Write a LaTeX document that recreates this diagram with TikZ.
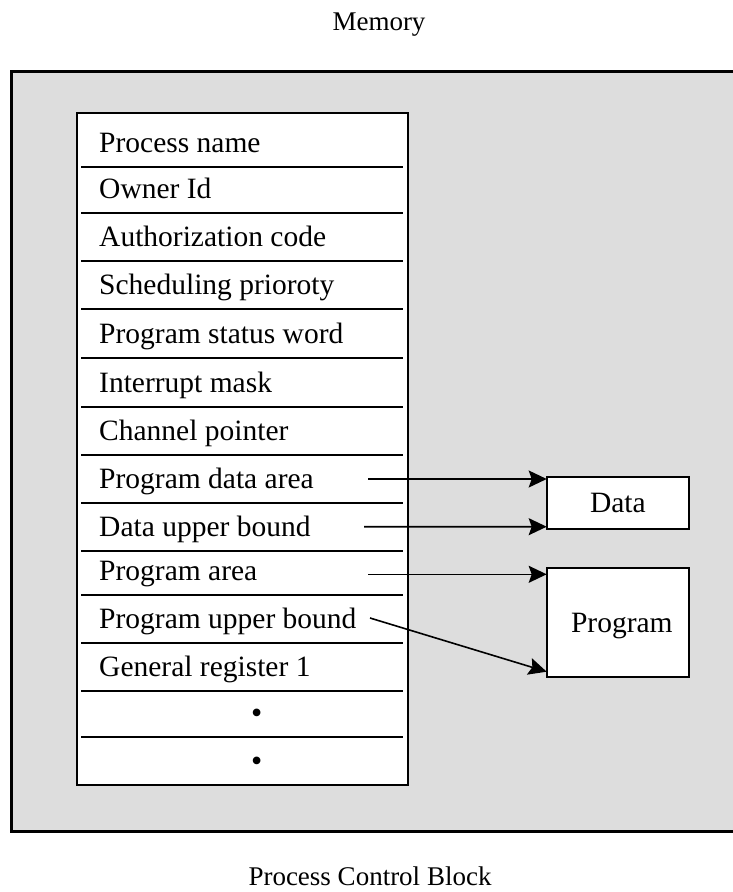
\documentclass[tikz,border=0pt]{standalone}
\usepackage{fontspec}
\setmainfont{Liberation Serif}
\usetikzlibrary{arrows.meta,calc}
\definecolor{memgray}{RGB}{221,221,221}
\begin{document}
\begin{tikzpicture}[x=1pt,y=-1pt,
  field/.style={anchor=base west, inner sep=0pt, font=\fontsize{29.5}{34}\selectfont},
  dotfield/.style={anchor=center, inner sep=0pt, font=\fontsize{32}{34}\selectfont},
  rowsep/.style={line width=2pt},
  region/.style={draw, line width=3pt, fill=memgray, anchor=north west, inner sep=0pt, outer sep=0pt},
  table/.style={draw, line width=2.4pt, fill=white, anchor=north west, inner sep=0pt, outer sep=0pt},
  box/.style={draw, line width=2.2pt, fill=white, anchor=north west, inner sep=0pt, outer sep=0pt,
    text depth=0pt, font=\fontsize{29.5}{34}\selectfont},
  link/.style={line width=1.6pt, -{Stealth[length=18pt,width=17pt,inset=3pt]}},
  caption/.style={anchor=base, inner sep=0pt, font=\fontsize{27}{32}\selectfont}]
\useasboundingbox (0,0) rectangle (733,892);

% captions
\node[caption] (memlabel) at (379,30.7) {Memory};
\node[caption] (pcblabel) at (370,885) {Process Control Block};

% memory region (runs off the right edge)
\node[region, minimum width=760pt, minimum height=760pt] (memory) at (11,71) {};

% process control block
\node[table, minimum width=331pt, minimum height=672pt] (pcb) at (77,113) {};

\foreach \sy in {166.7,212.7,261,309,358.3,406.7,455,502.7,550.7,595,642.7,690.7,736.7}
  \draw[rowsep] (81,\sy) -- (403,\sy);

\foreach \txt/\sy [count=\i] in {
    Process name/166.7, Owner Id/212.7, Authorization code/261,
    Scheduling prioroty/309, Program status word/358.3, Interrupt mask/406.7,
    Channel pointer/455, Program data area/502.7, Data upper bound/550.7,
    Program area/595, Program upper bound/642.7, General register 1/690.7}
  \node[field] (row\i) at (99,\sy-14.5) {\txt};

\node[dotfield] (more1) at (256.7,716) {\textbullet};
\node[dotfield] (more2) at (256.7,764) {\textbullet};

% data and program areas
\node[box, minimum width=142.3pt, minimum height=51.7pt] (data) at (546.7,477.3) {Data};
\node[box, minimum width=142.3pt, minimum height=108.4pt] (prog) at (546.7,568.3) {\hspace*{8pt}Program};

% pointers
\coordinate (s1) at (368,479);
\coordinate (s2) at (364,526.7);
\coordinate (s3) at (368,574.3);
\coordinate (s4) at (370,618);
\coordinate (e1) at ($(data.north west)+(0,1.7)$);
\coordinate (e2) at ($(data.south west)+(0,-2.3)$);
\coordinate (e3) at ($(prog.north west)+(0,6)$);
\coordinate (e4) at ($(prog.south west)+(0,-5)$);
\draw[link] (s1) -- (e1);
\draw[link] (s2) -- (e2);
\draw[link] (s3) -- (e3);
\draw[link] (s4) -- (e4);
\end{tikzpicture}
\end{document}
